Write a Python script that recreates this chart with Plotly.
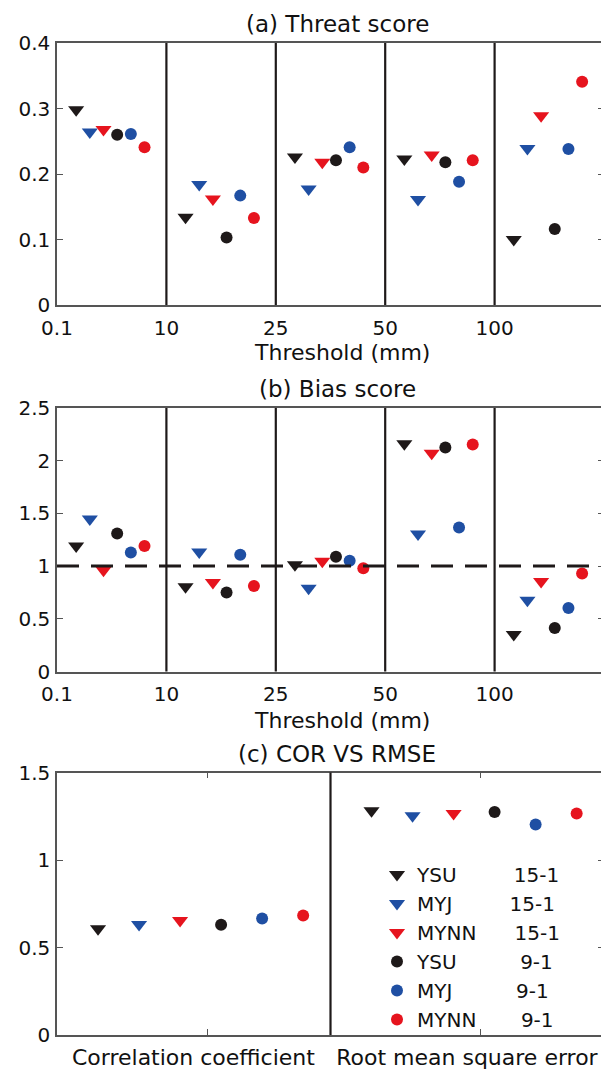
import plotly.graph_objects as go

# ---------------- data ----------------
thresholds = ["0.1", "10", "25", "50", "100"]
models = ["YSU", "MYJ", "MYNN", "YSU", "MYJ", "MYNN"]
runs = ["15-1", "15-1", "15-1", "9-1", "9-1", "9-1"]

# (a) Threat score, one list per experiment, one value per threshold
threat_ysu_15 = [0.298, 0.134, 0.226, 0.223, 0.100]
threat_myj_15 = [0.264, 0.184, 0.177, 0.161, 0.239]
threat_mynn_15 = [0.268, 0.162, 0.218, 0.229, 0.289]
threat_ysu_9 = [0.260, 0.103, 0.221, 0.218, 0.116]
threat_myj_9 = [0.261, 0.167, 0.241, 0.188, 0.238]
threat_mynn_9 = [0.241, 0.133, 0.210, 0.221, 0.341]

# (b) Bias score
bias_ysu_15 = [1.19, 0.803, 1.012, 2.16, 0.352]
bias_myj_15 = [1.447, 1.133, 0.79, 1.304, 0.676]
bias_mynn_15 = [0.961, 0.844, 1.047, 2.07, 0.853]
bias_ysu_9 = [1.31, 0.749, 1.088, 2.126, 0.412]
bias_myj_9 = [1.13, 1.107, 1.05, 1.367, 0.603]
bias_mynn_9 = [1.19, 0.812, 0.98, 2.154, 0.93]

# (c) correlation coefficient and RMSE, one value per experiment
stat_labels = ["Correlation coefficient", "Root mean square error"]
cor_values = [0.607, 0.632, 0.655, 0.630, 0.666, 0.683]
rmse_values = [1.281, 1.253, 1.266, 1.274, 1.203, 1.266]

threat_series = [threat_ysu_15, threat_myj_15, threat_mynn_15,
                 threat_ysu_9, threat_myj_9, threat_mynn_9]
bias_series = [bias_ysu_15, bias_myj_15, bias_mynn_15,
               bias_ysu_9, bias_myj_9, bias_mynn_9]

# ---------------- style ----------------
FONT = "DejaVu Sans"
BLACK = "#1e1919"
BLUE = "#1f4fa3"
RED = "#e6141e"
FRAME = "#555555"
colors = [BLACK, BLUE, RED, BLACK, BLUE, RED]
symbols = ["triangle-down"] * 3 + ["circle"] * 3
sizes = [14, 14, 14, 12, 12, 12]
pads = [9, 9, 6, 10, 10, 7]
offs_ab = [0.175 + 0.125 * k for k in range(6)]
offs_c = [0.15 * (k + 1) for k in range(6)]

W, H = 609, 1071
OFF = 8  # the page body margin shifts the figure by 8 px


def px(v):
    return (v - OFF) / W


def py(v):
    return 1 - (v - OFF) / H


fig = go.Figure()

for k in range(6):
    name = models[k] + "\u00a0" * pads[k] + runs[k]
    mk = dict(symbol=symbols[k], size=sizes[k], color=colors[k], line=dict(width=0))
    fig.add_trace(go.Scatter(
        x=[i + offs_ab[k] for i in range(len(thresholds))], y=threat_series[k],
        mode="markers", marker=mk, xaxis="x", yaxis="y", showlegend=False, name=name))
    fig.add_trace(go.Scatter(
        x=[i + offs_ab[k] for i in range(len(thresholds))], y=bias_series[k],
        mode="markers", marker=mk, xaxis="x2", yaxis="y2", showlegend=False, name=name))
    fig.add_trace(go.Scatter(
        x=[0 + offs_c[k], 1 + offs_c[k]], y=[cor_values[k], rmse_values[k]],
        mode="markers", marker=mk, xaxis="x3", yaxis="y3", showlegend=True, name=name))

xdom = [px(57), px(604)]
tickfont = dict(family=FONT, size=20, color="#111111")
common_x = dict(domain=xdom, showgrid=False, zeroline=False, showline=True,
                linecolor=FRAME, linewidth=1.5, mirror=True, ticks="",
                tickfont=tickfont, ticklabelstandoff=4, automargin=False)
common_y = dict(showgrid=False, zeroline=False, showline=True, linecolor=FRAME,
                linewidth=1.5, mirror="ticks", ticks="inside", ticklen=6,
                tickwidth=1.3, tickcolor=FRAME, tickfont=tickfont,
                ticklabelstandoff=1, automargin=False)

fig.update_layout(
    width=W, height=H,
    margin=dict(l=0, r=0, t=0, b=0, autoexpand=False),
    paper_bgcolor="white", plot_bgcolor="white",
    font=dict(family=FONT, color="#111111"),
    xaxis=dict(**common_x, range=[0, 5], anchor="y",
               tickvals=list(range(5)), ticktext=thresholds),
    yaxis=dict(**common_y, domain=[py(305), py(43)], range=[0, 0.4], anchor="x",
               tickvals=[0, 0.1, 0.2, 0.3, 0.4], ticktext=["0", "0.1", "0.2", "0.3", "0.4"]),
    xaxis2=dict(**common_x, range=[0, 5], anchor="y2",
                tickvals=list(range(5)), ticktext=thresholds),
    yaxis2=dict(**common_y, domain=[py(671.5), py(408)], range=[0, 2.5], anchor="x2",
                tickvals=[0, 0.5, 1, 1.5, 2, 2.5], ticktext=["0", "0.5", "1", "1.5", "2", "2.5"]),
    xaxis3=dict(domain=xdom, showgrid=False, zeroline=False, showline=True,
                linecolor=FRAME, linewidth=1.5, mirror="ticks", ticks="inside",
                ticklen=6, tickwidth=1.3, tickcolor=FRAME, automargin=False,
                tickfont=dict(family=FONT, size=22, color="#111111"),
                range=[0, 2], anchor="y3", tickvals=[0.55, 1.55],
                ticktext=stat_labels, ticklabelshift=-14, ticklabelstandoff=2),
    yaxis3=dict(**common_y, domain=[py(1035), py(772.5)], range=[0, 1.5], anchor="x3",
                tickvals=[0, 0.5, 1, 1.5], ticktext=["0", "0.5", "1", "1.5"]),
    legend=dict(x=px(377), y=py(855), xanchor="left", yanchor="top",
                bgcolor="rgba(0,0,0,0)", borderwidth=0,
                font=dict(family=FONT, size=20, color="#111111"),
                itemwidth=30, tracegroupgap=0),
)

# separators between threshold classes / statistics
for xa, ya in (("x", "y"), ("x2", "y2")):
    for i in range(1, len(thresholds)):
        fig.add_shape(type="line", xref=xa, yref=ya + " domain", x0=i, x1=i, y0=0, y1=1,
                      line=dict(color=BLACK, width=2.2))
fig.add_shape(type="line", xref="x3", yref="y3 domain", x0=1, x1=1, y0=0, y1=1,
              line=dict(color=BLACK, width=2.2))
# bias = 1 reference
fig.add_shape(type="line", xref="x2 domain", yref="y2", x0=0, x1=1, y0=1, y1=1,
              line=dict(color=BLACK, width=3, dash="22px,12px"))

titles = [("(a) Threat score", 24), ("(b) Bias score", 389), ("(c) COR VS RMSE", 754)]
for txt, yc in titles:
    fig.add_annotation(text=txt, xref="paper", yref="paper", x=px(337), y=py(yc),
                       xanchor="center", yanchor="middle", showarrow=False,
                       font=dict(family=FONT, size=23, color="#111111"))
for yc in (353, 720):
    fig.add_annotation(text="Threshold (mm)", xref="paper", yref="paper", x=px(342), y=py(yc),
                       xanchor="center", yanchor="middle", showarrow=False,
                       font=dict(family=FONT, size=22, color="#111111"))

fig.write_html("out.html")
